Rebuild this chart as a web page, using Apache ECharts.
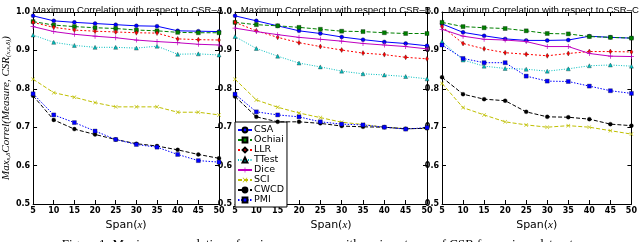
<!DOCTYPE html>
<html><head><meta charset="utf-8">
<script src="https://cdn.jsdelivr.net/npm/echarts@6/dist/echarts.min.js"></script>
<style>html,body{margin:0;padding:0;background:#fff;}#c{width:640px;height:242px;}</style>
</head><body><div id="c"></div>
<script>
const spans = [5,10,15,20,25,30,35,40,45,50];
const measures = ['CSA','Ochiai','LLR','TTest','Dice','SCI','CWCD','PMI'];
const panelTitles = ['Maximum Correlation with respect to CSR\u2013A','Maximum Correlation with respect to CSR\u2013B','Maximum Correlation with respect to CSR\u2013C'];
const yTicks = [0.5,0.6,0.7,0.8,0.9,1.0];

// CSR-A
const CSA_A    = [0.990,0.977,0.973,0.970,0.967,0.964,0.963,0.951,0.950,0.949];
const Ochiai_A = [0.975,0.966,0.962,0.959,0.957,0.953,0.951,0.947,0.946,0.946];
const LLR_A    = [0.973,0.960,0.953,0.950,0.948,0.946,0.945,0.930,0.928,0.927];
const TTest_A  = [0.940,0.921,0.913,0.908,0.908,0.906,0.911,0.890,0.891,0.888];
const Dice_A   = [0.962,0.949,0.942,0.937,0.933,0.927,0.923,0.920,0.916,0.914];
const SCI_A    = [0.825,0.790,0.778,0.764,0.753,0.753,0.753,0.739,0.739,0.732];
const CWCD_A   = [0.782,0.719,0.695,0.681,0.668,0.657,0.651,0.641,0.629,0.619];
const PMI_A    = [0.787,0.732,0.712,0.690,0.668,0.655,0.648,0.629,0.613,0.609];
// CSR-B
const CSA_B    = [0.990,0.977,0.964,0.951,0.944,0.935,0.928,0.922,0.918,0.912];
const Ochiai_B = [0.973,0.967,0.964,0.960,0.955,0.950,0.949,0.946,0.944,0.944];
const LLR_B    = [0.973,0.951,0.934,0.920,0.910,0.901,0.893,0.889,0.882,0.878];
const TTest_B  = [0.936,0.905,0.885,0.867,0.857,0.846,0.839,0.836,0.832,0.826];
const Dice_B   = [0.958,0.949,0.941,0.934,0.929,0.924,0.918,0.914,0.910,0.904];
const SCI_B    = [0.825,0.771,0.752,0.737,0.725,0.713,0.707,0.700,0.696,0.697];
const CWCD_B   = [0.780,0.727,0.714,0.714,0.710,0.703,0.701,0.700,0.696,0.697];
const PMI_B    = [0.786,0.740,0.732,0.727,0.714,0.708,0.706,0.700,0.695,0.699];
// CSR-C
const CSA_C    = [0.969,0.947,0.938,0.930,0.926,0.926,0.927,0.937,0.934,0.932];
const Ochiai_C = [0.973,0.962,0.959,0.957,0.951,0.944,0.943,0.936,0.934,0.932];
const LLR_C    = [0.962,0.918,0.904,0.894,0.890,0.886,0.892,0.897,0.897,0.896];
const TTest_C  = [0.923,0.875,0.859,0.853,0.851,0.846,0.852,0.860,0.862,0.859];
const Dice_C   = [0.955,0.937,0.929,0.927,0.923,0.910,0.910,0.892,0.885,0.884];
const SCI_C    = [0.814,0.751,0.732,0.714,0.706,0.700,0.704,0.700,0.691,0.682];
const CWCD_C   = [0.830,0.786,0.773,0.769,0.740,0.727,0.726,0.721,0.708,0.704];
const PMI_C    = [0.914,0.879,0.868,0.868,0.833,0.820,0.819,0.807,0.795,0.788];

const panelData = [
  [CSA_A,Ochiai_A,LLR_A,TTest_A,Dice_A,SCI_A,CWCD_A,PMI_A],
  [CSA_B,Ochiai_B,LLR_B,TTest_B,Dice_B,SCI_B,CWCD_B,PMI_B],
  [CSA_C,Ochiai_C,LLR_C,TTest_C,Dice_C,SCI_C,CWCD_C,PMI_C]
];

const PLUS = 'path://M4.3,0H5.7V4.3H10V5.7H5.7V10H4.3V5.7H0V4.3H4.3Z';
const XMARK = 'path://M1,0L5,4L9,0L10,1L6,5L10,9L9,10L5,6L1,10L0,9L4,5L0,1Z';
const styles = {
  CSA:    {color:'#0000ff', type:'solid', symbol:'circle', size:4},
  Ochiai: {color:'#008000', type:[4,2], symbol:'rect', size:4},
  LLR:    {color:'#ff0000', type:[2,2], symbol:'diamond', size:[3,5]},
  TTest:  {color:'#00bfbf', type:[1,1.5], symbol:'triangle', size:4},
  Dice:   {color:'#bf00bf', type:'solid', symbol:PLUS, size:5},
  SCI:    {color:'#bfbf00', type:[4,2], symbol:XMARK, size:4},
  CWCD:   {color:'#000000', type:[4,2], symbol:'circle', size:4},
  PMI:    {color:'#0000ff', type:[1.5,1.5], symbol:'rect', size:4}
};

const grids = [
  {left:27, top:12, width:192, height:192},
  {left:235, top:12, width:192, height:192},
  {left:442, top:12, width:193, height:192}
];
const tickFont = {fontSize:8, fontWeight:'bold', color:'#000', fontFamily:'DejaVu Sans'};
const xAxes = [], yAxes = [], series = [], titles = [];
grids.forEach((g, i) => {
  xAxes.push({
    type:'value', gridIndex:i, min:5, max:50, interval:5, position:'bottom',
    axisLine:{show:true, onZero:false, lineStyle:{color:'#000', width:1}},
    axisTick:{show:true, inside:true, length:4, lineStyle:{color:'#000'}},
    axisLabel:{...tickFont, margin:3},
    splitLine:{show:false},
    name:'{n|Span(}{i|x}{n|)}', nameLocation:'middle', nameGap:15,
    nameTextStyle:{rich:{n:{fontSize:11, fontFamily:'DejaVu Sans', color:'#000'}, i:{fontSize:11, fontStyle:'italic', fontFamily:'Liberation Serif', color:'#000'}}}
  });
  xAxes.push({
    type:'value', gridIndex:i, min:5, max:50, interval:5, position:'top',
    axisLine:{show:true, onZero:false, lineStyle:{color:'#000', width:1}},
    axisTick:{show:true, inside:true, length:4, lineStyle:{color:'#000'}},
    axisLabel:{show:false}, splitLine:{show:false}
  });
  const yl = {
    type:'value', gridIndex:i, min:0.5, max:1.0, interval:0.1, position:'left',
    axisLine:{show:true, onZero:false, lineStyle:{color:'#000', width:1}},
    axisTick:{show:true, inside:true, length:4, lineStyle:{color:'#000'}},
    axisLabel:{...tickFont, margin:3, formatter:v => v.toFixed(1)},
    splitLine:{show:false}
  };
  if (i === 0) {
    yl.name = '{i|Max}{s|s,\u03b4}{i|Correl(Measure, CSR}{s|(x,s,\u03b4)}{i|)}';
    yl.nameLocation = 'middle';
    yl.nameGap = 14;
    yl.nameRotate = 90;
    yl.nameTextStyle = {rich:{
      i:{fontSize:11, fontStyle:'italic', fontFamily:'Liberation Serif', color:'#000'},
      s:{fontSize:7, fontStyle:'italic', fontFamily:'Liberation Serif', color:'#000', verticalAlign:'bottom', padding:[4,0,0,0]}
    }};
  }
  yAxes.push(yl);
  yAxes.push({
    type:'value', gridIndex:i, min:0.5, max:1.0, interval:0.1, position:'right',
    axisLine:{show:true, onZero:false, lineStyle:{color:'#000', width:1}},
    axisTick:{show:true, inside:true, length:4, lineStyle:{color:'#000'}},
    axisLabel:{show:false}, splitLine:{show:false}
  });
  titles.push({
    text: panelTitles[i], left: g.left + g.width/2, top: 0, textAlign:'center',
    textStyle:{fontSize:9.6, fontWeight:'normal', color:'#000', fontFamily:'Liberation Sans'}
  });
  measures.forEach((m, k) => {
    const s = styles[m];
    series.push({
      name:m, type:'line', xAxisIndex:2*i, yAxisIndex:2*i,
      data: spans.map((x, j) => [x, panelData[i][k][j]]),
      symbol:s.symbol, symbolSize:s.size, showSymbol:true,
      lineStyle:{color:s.color, width:1, type:s.type},
      itemStyle:{color:s.color, borderColor: (m==='Dice'||m==='SCI') ? s.color : '#000', borderWidth: (m==='Dice'||m==='SCI') ? 0 : 0.3},
      z: 2 + k, animation:false, silent:true
    });
  });
});

const chart = echarts.init(document.getElementById('c'), null, {renderer:'canvas'});
chart.setOption({
  animation:false,
  backgroundColor:'#fff',
  title: titles,
  grid: grids,
  xAxis: xAxes,
  yAxis: yAxes,
  legend: {
    data: measures, orient:'vertical', left:235, top:122,
    backgroundColor:'#fff', borderColor:'#000', borderWidth:1,
    padding:[3,3,2,2], itemWidth:14, itemHeight:6, itemGap:0,
    textStyle:{fontSize:9.5, lineHeight:9.5, color:'#000', fontFamily:'DejaVu Sans', padding:[0,0,0,-3]},
    selectedMode:false
  },
  graphic: [{
    type:'text', left:'center', top:238,
    style:{text:'Figure 1: Maximum correlation of various measures with various types of CSR for various datasets', font:'13px "Liberation Serif"', fill:'#000'}
  }],
  series: series
});
</script></body></html>
